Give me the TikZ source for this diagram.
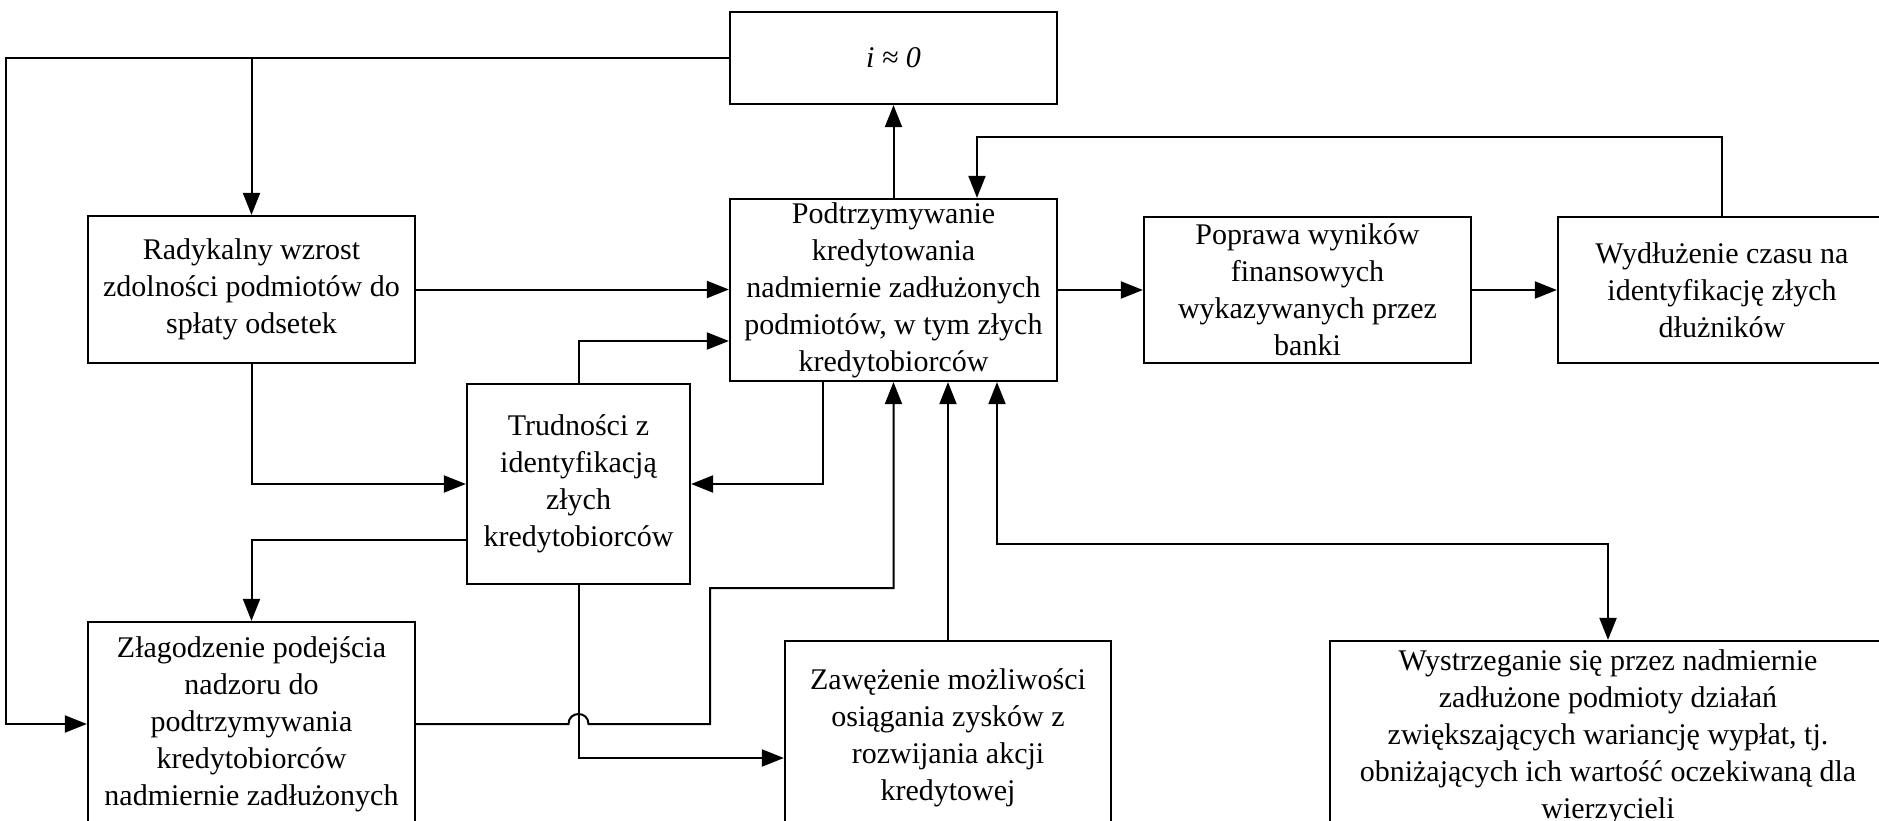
\documentclass[tikz,border=0pt]{standalone}
\usepackage{fontspec}
\setmainfont{Liberation Serif}
\usetikzlibrary{arrows.meta}
\tikzset{
	blok/.style={draw, line width=2.2pt, align=center, inner sep=0pt, font=\fontsize{30}{37}\selectfont},
	strz/.style={line width=2pt, -{Triangle[length=22pt,width=17pt]}},
	strzdwa/.style={line width=2pt, {Triangle[length=22pt,width=17pt]}-{Triangle[length=22pt,width=17pt]}}
}
\begin{document}
\begin{tikzpicture}[x=1pt, y=-1pt]
		\fill[white] (0,0) rectangle (1879,821);
		\useasboundingbox (0,0) rectangle (1879,821);
		
		\node[blok, minimum width=327pt, minimum height=92pt] (izero) at (893.5,58) {\textit{i ≈ 0}};
		\node[blok, minimum width=327pt, minimum height=182pt] (podtrz) at (893.5,290) {Podtrzymywanie\\kredytowania\\nadmiernie zadłużonych\\podmiotów, w tym złych\\kredytobiorców};
		\node[blok, minimum width=327pt, minimum height=147pt] (radyk) at (251.5,289.5) {Radykalny wzrost\\zdolności podmiotów do\\spłaty odsetek};
		\node[blok, minimum width=327pt, minimum height=146pt] (poprawa) at (1307.5,290) {Poprawa wyników\\finansowych\\wykazywanych przez\\banki};
		\node[blok, minimum width=328pt, minimum height=146pt] (wydl) at (1722,290) {Wydłużenie czasu na\\identyfikację złych\\dłużników};
		\node[blok, minimum width=223pt, minimum height=200pt] (trud) at (578.5,484) {Trudności z\\identyfikacją\\złych\\kredytobiorców};
		\node[blok, minimum width=327pt, minimum height=204pt] (zlag) at (251.5,724) {Złagodzenie podejścia\\nadzoru do\\podtrzymywania\\kredytobiorców\\nadmiernie zadłużonych};
		\node[blok, minimum width=326pt, minimum height=194pt] (zaw) at (948,738) {Zawężenie możliwości\\osiągania zysków z\\rozwijania akcji\\kredytowej};
		\node[blok, minimum width=556pt, minimum height=192pt] (wystrz) at (1608,737) {Wystrzeganie się przez nadmiernie\\zadłużone podmioty działań\\zwiększających wariancję wypłat, tj.\\obniżających ich wartość oczekiwaną dla\\wierzycieli};
		
		\coordinate (lewa) at (6,0);
		\coordinate (hop) at (trud.south |- zlag.east);
		\coordinate (zalom) at (710,588);
		
		\draw[strz] (izero.west) -- (izero.west -| lewa) |- (zlag.west);
		\draw[strz] (radyk.north |- izero.west) -- (radyk.north);
		\draw[strz] (podtrz.north) -- (izero.south);
		\draw[strz] (radyk.east) -- (radyk.east -| podtrz.west);
		\draw[strz] (podtrz.east) -- (poprawa.west);
		\draw[strz] (poprawa.east) -- (wydl.west);
		\draw[strz] (wydl.north) -- ++(0,-79) -| ([xshift=83.5pt]podtrz.north);
		\draw[strz] (trud.north) |- ([yshift=-51pt]podtrz.west);
		\draw[strz] (radyk.south) |- (trud.west);
		\draw[strz] ([xshift=-70.5pt]podtrz.south) |- (trud.east);
		\draw[strz] ([yshift=-56pt]trud.west) -| (zlag.north);
		\draw[strz] (zlag.east) -- ([xshift=-10pt]hop) .. controls +(0,-13.3) and +(0,-13.3) .. ([xshift=10pt]hop) -- (zalom |- hop) -- (zalom) -| (podtrz.south);
		\draw[strz] (trud.south) |- ([yshift=-20pt]zaw.west);
		\draw[strz] (zaw.north) -- (zaw.north |- podtrz.south);
		\draw[strzdwa] ([xshift=103.5pt]podtrz.south) -- ++(0,162) -| (wystrz.north);
		\end{tikzpicture}
\end{document}
